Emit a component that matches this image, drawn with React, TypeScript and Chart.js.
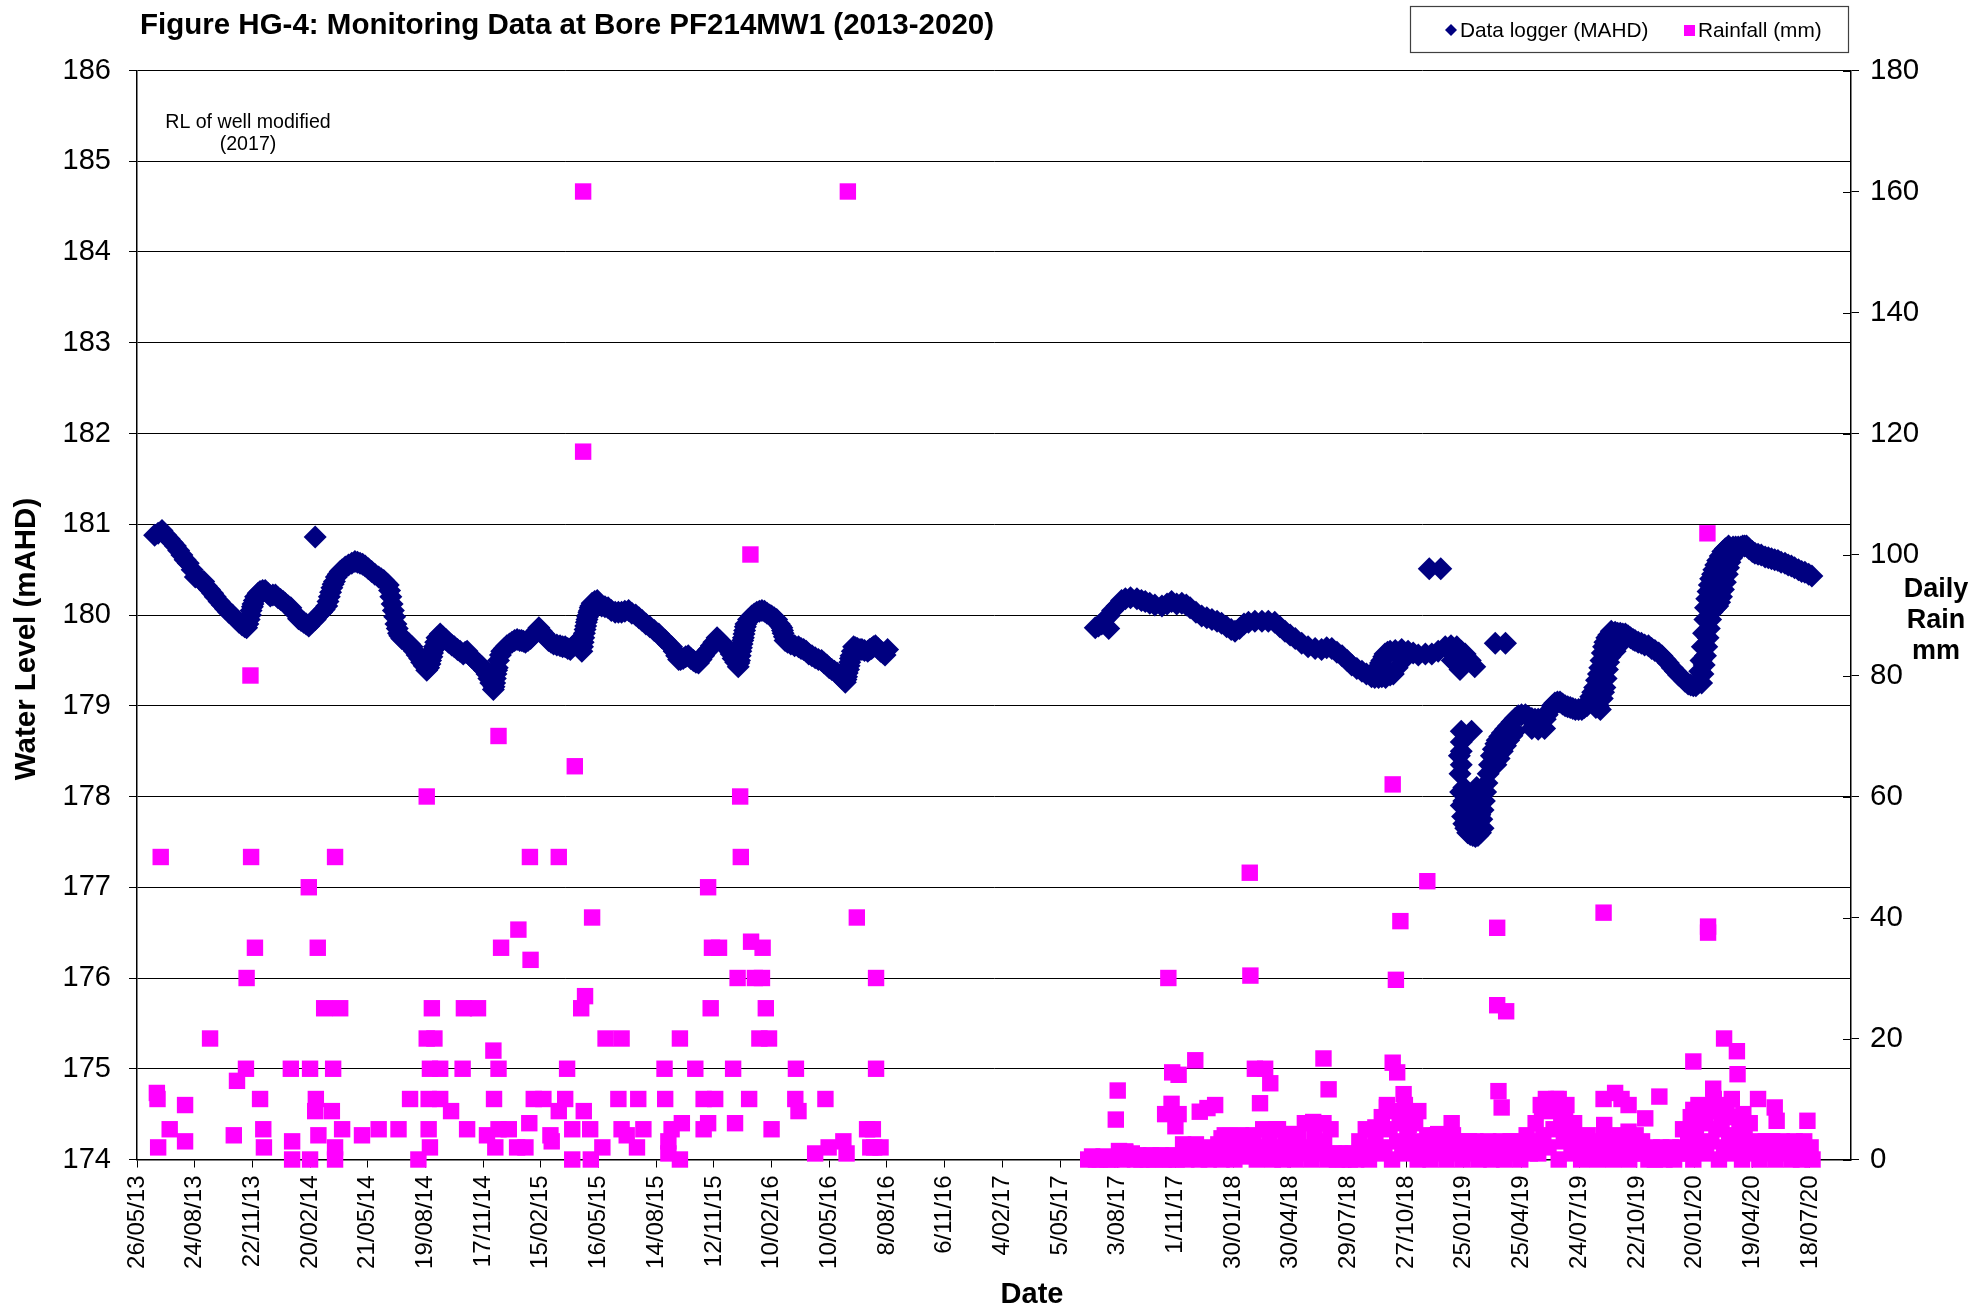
import React, { useEffect, useRef } from 'react';
import { Chart, registerables } from 'chart.js';

Chart.register(...registerables);

const FONT = '"Liberation Sans", Arial, Helvetica, sans-serif';
const TITLE = 'Figure HG-4: Monitoring Data at Bore PF214MW1 (2013-2020)';
const LEGEND_LEVEL = 'Data logger (MAHD)';
const LEGEND_RAIN = 'Rainfall (mm)';
const NOTE = ['RL of well modified', '(2017)'];
const Y_TITLE = 'Water Level (mAHD)';
const Y2_TITLE = ['Daily', 'Rain', 'mm'];
const X_TITLE = 'Date';

// x values are days after 26/05/2013
const X_MIN = 0;
const X_MAX = 2674;
const xTickDays = [0, 90, 180, 270, 360, 450, 540, 630, 720, 810, 900, 990, 1080, 1170, 1260, 1350, 1440, 1530, 1620, 1710, 1800, 1890, 1980, 2070, 2160, 2250, 2340, 2430, 2520, 2610];
const xTickLabels = ['26/05/13', '24/08/13', '22/11/13', '20/02/14', '21/05/14', '19/08/14', '17/11/14', '15/02/15', '16/05/15', '14/08/15', '12/11/15', '10/02/16', '10/05/16', '8/08/16', '6/11/16', '4/02/17', '5/05/17', '3/08/17', '1/11/17', '30/01/18', '30/04/18', '29/07/18', '27/10/18', '25/01/19', '25/04/19', '24/07/19', '22/10/19', '20/01/20', '19/04/20', '18/07/20'];

const levelTicks = [174, 175, 176, 177, 178, 179, 180, 181, 182, 183, 184, 185, 186];
const rainTicks = [0, 20, 40, 60, 80, 100, 120, 140, 160, 180];

// Data logger water level (mAHD), 2013 - 2016
const wlDaysA = [
  27.5, 33, 39, 45, 50, 55, 60, 65, 70, 75, 80, 86, 91, 97, 104, 108, 113, 118, 122, 128, 133, 138, 143, 149, 154, 159, 164, 168, 171, 173, 175, 177, 178, 180, 181, 183, 185, 189, 192, 196, 200, 204, 208, 212, 216, 220, 224, 228, 231, 236, 240, 246, 252, 256, 260, 264, 268, 273, 278, 278, 283, 288, 292, 296, 298, 300, 302, 304, 306, 308, 311, 314, 317, 320, 325, 330, 335, 340, 344, 348, 352, 356, 361, 366, 371, 377, 381, 385, 389, 392, 394, 396, 398, 400, 402, 404, 406, 408, 410, 413, 417, 421, 425, 429, 433, 437, 441, 444, 448, 452, 455, 457, 458, 460, 461, 463, 464, 466, 468, 473, 477, 482, 486, 491, 495, 500, 504, 509, 512, 515, 519, 523, 527, 530, 534, 538, 542, 546, 549, 552, 556, 557, 558, 559, 560, 561, 562, 564, 567, 569, 573, 577, 581, 585, 589, 593, 597, 600, 603, 606, 610, 614, 617, 620, 624, 627, 631, 635, 639, 642, 646, 650, 655, 660, 664, 668, 672, 676, 681, 686, 690, 694, 695, 696, 697, 698, 699, 700, 701, 702, 703, 704, 705, 706, 707, 708, 710, 714, 718, 721, 725, 730, 735, 740, 746, 751, 756, 761, 767, 772, 778, 783, 788, 794, 800, 807, 814, 819, 824, 829, 834, 838, 842, 845, 848, 852, 856, 860, 864, 868, 872, 876, 880, 884, 888, 892, 896, 900, 905, 909, 914, 918, 923, 927, 930, 934, 938, 939, 940, 941, 942, 943, 944, 945, 946, 947, 948, 949, 950, 954, 959, 963, 967, 971, 975, 979, 983, 987, 990, 994, 998, 1002, 1004, 1006, 1007, 1008, 1010, 1011, 1015, 1020, 1026, 1032, 1036, 1040, 1044, 1048, 1053, 1058, 1063, 1068, 1072, 1076, 1080, 1084, 1088, 1092, 1096, 1100, 1105, 1106, 1107, 1108, 1110, 1111, 1112, 1113, 1114, 1116, 1118, 1121, 1124, 1128, 1131, 1135, 1140, 1143, 1146, 1149, 1152, 1156, 1160, 1164, 1167, 1171,
];
const wlLevelA = [
  180.88, 180.9, 180.93, 180.88, 180.84, 180.8, 180.76, 180.71, 180.66, 180.61, 180.57, 180.5, 180.42, 180.4, 180.37, 180.32, 180.28, 180.24, 180.2, 180.15, 180.11, 180.07, 180.03, 180.0, 179.96, 179.92, 179.89, 179.87, 179.86, 179.9, 179.95, 180.0, 180.05, 180.09, 180.12, 180.16, 180.2, 180.24, 180.26, 180.27, 180.27, 180.24, 180.21, 180.22, 180.22, 180.19, 180.17, 180.15, 180.13, 180.1, 180.08, 180.02, 179.96, 179.94, 179.92, 179.9, 179.88, 179.92, 179.95, 180.86, 180.0, 180.03, 180.06, 180.1, 180.15, 180.2, 180.25, 180.3, 180.34, 180.37, 180.42, 180.45, 180.48, 180.5, 180.53, 180.55, 180.57, 180.59, 180.58, 180.57, 180.56, 180.54, 180.51, 180.48, 180.45, 180.42, 180.4, 180.38, 180.35, 180.33, 180.27, 180.2, 180.12, 180.05, 179.98, 179.9, 179.85, 179.8, 179.77, 179.74, 179.72, 179.7, 179.68, 179.65, 179.6, 179.56, 179.52, 179.48, 179.44, 179.39, 179.42, 179.46, 179.5, 179.54, 179.58, 179.62, 179.65, 179.7, 179.75, 179.79, 179.76, 179.73, 179.7, 179.67, 179.65, 179.62, 179.6, 179.57, 179.59, 179.6, 179.56, 179.53, 179.5, 179.48, 179.46, 179.43, 179.39, 179.35, 179.3, 179.25, 179.18, 179.21, 179.25, 179.3, 179.35, 179.39, 179.42, 179.5, 179.56, 179.6, 179.63, 179.66, 179.68, 179.7, 179.72, 179.73, 179.72, 179.72, 179.71, 179.7, 179.72, 179.74, 179.77, 179.8, 179.83, 179.86, 179.82, 179.79, 179.75, 179.72, 179.7, 179.68, 179.67, 179.66, 179.65, 179.65, 179.63, 179.62, 179.66, 179.7, 179.65, 179.6, 179.65, 179.7, 179.75, 179.8, 179.84, 179.88, 179.92, 179.95, 179.98, 180.0, 180.03, 180.05, 180.08, 180.1, 180.13, 180.15, 180.16, 180.13, 180.1, 180.09, 180.08, 180.05, 180.03, 180.03, 180.03, 180.04, 180.05, 180.02, 180.0, 179.97, 179.94, 179.9, 179.87, 179.83, 179.79, 179.75, 179.72, 179.68, 179.65, 179.6, 179.55, 179.51, 179.51, 179.52, 179.54, 179.55, 179.52, 179.5, 179.48, 179.47, 179.51, 179.55, 179.59, 179.62, 179.66, 179.7, 179.75, 179.72, 179.68, 179.65, 179.62, 179.57, 179.52, 179.48, 179.43, 179.47, 179.5, 179.55, 179.6, 179.64, 179.68, 179.72, 179.75, 179.79, 179.83, 179.87, 179.9, 179.95, 179.99, 180.01, 180.03, 180.04, 180.05, 180.04, 180.02, 180.0, 179.99, 179.97, 179.95, 179.9, 179.88, 179.86, 179.83, 179.8, 179.76, 179.72, 179.7, 179.68, 179.66, 179.65, 179.63, 179.62, 179.6, 179.57, 179.55, 179.53, 179.51, 179.5, 179.47, 179.45, 179.42, 179.4, 179.38, 179.36, 179.33, 179.3, 179.26, 179.29, 179.32, 179.36, 179.4, 179.44, 179.48, 179.52, 179.55, 179.6, 179.65, 179.64, 179.63, 179.62, 179.62, 179.61, 179.6, 179.62, 179.63, 179.65, 179.66, 179.63, 179.6, 179.58, 179.56, 179.62,
];

// Data logger water level (mAHD), 2017 - early 2019
const wlDaysB = [
  1495, 1500, 1505, 1510, 1516, 1516, 1522, 1529, 1536, 1542, 1550, 1560, 1567, 1573, 1580, 1588, 1599, 1607, 1614, 1622, 1630, 1637, 1643, 1652, 1661, 1669, 1677, 1685, 1692, 1700, 1707, 1713, 1720, 1727, 1734, 1744, 1755, 1765, 1775, 1783, 1791, 1799, 1807, 1817, 1827, 1838, 1848, 1856, 1864, 1872, 1880, 1888, 1895, 1903, 1911, 1918, 1926, 1931, 1937, 1942, 1948, 1955, 1960, 1937, 1940, 1942, 1945, 1947, 1951, 1955, 1963, 1966, 1973, 1975, 1983, 1991, 1999, 2010, 2016, 2020, 2030, 2034, 2041, 2050, 2052, 2059, 2060, 2064, 2066, 2072, 2080, 2087,
];
const wlLevelB = [
  179.86, 179.88, 179.9, 179.95, 179.99, 179.85, 180.05, 180.1, 180.16, 180.18, 180.19, 180.18, 180.16, 180.15, 180.13, 180.11, 180.1, 180.12, 180.15, 180.12, 180.13, 180.11, 180.08, 180.03, 179.99, 179.97, 179.95, 179.93, 179.91, 179.87, 179.84, 179.82, 179.85, 179.9, 179.92, 179.93, 179.93, 179.93, 179.92, 179.87, 179.82, 179.78, 179.74, 179.69, 179.65, 179.63, 179.62, 179.64, 179.63, 179.59, 179.55, 179.5, 179.45, 179.41, 179.38, 179.35, 179.32, 179.31, 179.31, 179.32, 179.31, 179.34, 179.35, 179.43, 179.47, 179.5, 179.54, 179.57, 179.59, 179.6, 179.61, 179.42, 179.62, 179.5, 179.6, 179.58, 179.56, 179.57, 180.51, 179.57, 179.6, 180.51, 179.65, 179.66, 179.5, 179.65, 179.45, 179.4, 179.6, 179.57, 179.5, 179.43,
];

// Data logger water level (mAHD), 2019 drop - 2020
const wlDaysC = [
  2066, 2066, 2066, 2066, 2063, 2064, 2065, 2066, 2068, 2070, 2073, 2076, 2080, 2084, 2088, 2092, 2096, 2100, 2098, 2100, 2102, 2104, 2106, 2108, 2110, 2113, 2116, 2120, 2070, 2070, 2075, 2075, 2080, 2080, 2085, 2085, 2090, 2090, 2090, 2095, 2095, 2082, 2119, 2135,
  2122, 2126, 2130, 2135, 2140, 2145, 2150, 2155, 2160, 2166, 2171, 2176, 2181, 2186, 2192, 2197, 2200, 2204, 2208, 2212, 2216, 2220, 2224, 2228, 2232, 2236, 2240, 2244, 2249, 2254, 2258,
  2120, 2125, 2130, 2135, 2140, 2145, 2150, 2176, 2186, 2196,
  2262, 2265, 2268, 2271, 2274, 2277, 2280, 2282, 2284, 2286, 2288, 2290, 2293, 2296,
  2276, 2280, 2283, 2286, 2288, 2290, 2292, 2294, 2296, 2298, 2302, 2306, 2310, 2314,
  2300, 2306, 2310, 2314, 2318, 2322, 2326, 2330, 2334, 2337, 2342, 2347, 2352, 2358, 2363, 2368, 2374, 2379, 2384, 2389, 2395, 2400, 2405, 2410, 2415, 2420, 2424, 2428, 2432,
  2436, 2438, 2440, 2442, 2444, 2446, 2447, 2449, 2451, 2453, 2455, 2458, 2460, 2463, 2466, 2470, 2474, 2478, 2483,
  2441, 2443, 2445, 2447, 2449, 2451, 2453, 2455, 2457, 2460, 2463, 2466, 2469, 2472, 2475, 2478, 2481, 2483, 2485, 2488, 2490, 2494,
  2490, 2494, 2498, 2502, 2505, 2508, 2511, 2515, 2520, 2524, 2529, 2534, 2540, 2545, 2550, 2555, 2560, 2565, 2571, 2576, 2581, 2586, 2592, 2597, 2602, 2608, 2613,
];
const wlLevelC = [
  178.72, 178.6, 178.5, 178.35, 178.45, 178.25, 178.05, 177.9, 177.78, 177.7, 177.65, 177.6, 177.58, 177.57, 177.56, 177.57, 177.6, 177.65, 177.75, 177.85, 177.95, 178.05, 178.15, 178.25, 178.35, 178.45, 178.52, 178.58, 178.1, 177.95, 177.85, 178.0, 177.75, 177.9, 177.7, 177.85, 177.7, 177.9, 178.1, 177.8, 178.0, 178.72, 179.69, 179.69,
  178.62, 178.66, 178.7, 178.74, 178.78, 178.82, 178.86, 178.89, 178.9, 178.9, 178.88, 178.86, 178.85, 178.85, 178.85, 178.85, 178.9, 178.95, 179.0, 179.03, 179.04, 179.04, 179.02, 179.0, 178.99, 178.98, 178.97, 178.96, 178.96, 178.96, 178.98,
  178.35, 178.42, 178.5, 178.56, 178.62, 178.67, 178.72, 178.75, 178.74, 178.75,
  179.0, 179.05, 179.1, 179.15, 179.2, 179.28, 179.35, 179.42, 179.5, 179.58, 179.65, 179.7, 179.75, 179.78,
  178.98, 179.0, 178.96, 179.08, 179.15, 179.2, 179.3, 179.4, 179.48, 179.54, 179.58, 179.6, 179.65, 179.7,
  179.82, 179.81, 179.8, 179.8, 179.79, 179.79, 179.77, 179.75, 179.73, 179.72, 179.7, 179.69, 179.67, 179.66, 179.63, 179.61, 179.58, 179.55, 179.51, 179.47, 179.42, 179.38, 179.34, 179.31, 179.27, 179.24, 179.23, 179.22, 179.22,
  179.25, 179.38, 179.5, 179.65, 179.8, 179.95, 180.08, 180.18, 180.26, 180.33, 180.4, 180.45, 180.5, 180.55, 180.6, 180.65, 180.7, 180.73, 180.76,
  179.25, 179.35, 179.45, 179.55, 179.65, 179.75, 179.85, 179.95, 180.03, 180.06, 180.08, 180.1, 180.14, 180.2, 180.28, 180.36, 180.45, 180.52, 180.58, 180.63, 180.68, 180.72,
  180.75, 180.75, 180.75, 180.75, 180.76, 180.76, 180.76, 180.73, 180.7, 180.68, 180.67, 180.66, 180.64, 180.63, 180.62, 180.61, 180.6, 180.58, 180.57, 180.55, 180.54, 180.52, 180.5, 180.48, 180.47, 180.45, 180.43,
];

// Daily rainfall (mm), 2013 - 2016
const rainDaysA = [
  31, 32, 33, 37, 51, 75, 75, 114, 151, 156, 170, 171, 177, 178, 184, 192, 197, 198, 240, 242, 242, 268, 270, 270, 278, 279, 282, 283, 292, 304, 306, 309, 309, 309, 317, 320, 351, 377, 408, 426, 439, 452, 452, 455, 455, 457, 457, 460, 464, 473, 473, 490, 508, 510, 515, 532, 546, 556, 557, 559, 564, 564, 564, 568, 580, 593, 595, 612, 613,
  606, 614, 619, 634, 645, 647, 658, 658, 668, 671, 679, 679, 683, 693, 696, 696, 697, 699, 707, 708, 710, 726, 731, 751, 756, 756, 764, 780, 782, 790, 823, 824, 829, 829, 834, 847, 847, 850, 871, 884, 884, 891, 891, 895, 897, 902, 908, 930, 933, 937, 941, 942, 955, 957, 958, 964, 971, 975, 976, 981, 986, 990, 1027, 1028, 1032, 1058, 1074, 1079, 1102, 1107, 1109, 1123, 1139, 1144, 1148, 1150, 1153, 1153, 1160,
];
const rainMmA = [
  11, 10, 2, 50, 5, 9, 3, 20, 4, 13, 15, 30, 80, 50, 35, 10, 5, 2, 15, 3, 0, 45, 15, 0, 8, 10, 35, 4, 25, 8, 15, 50, 0, 2, 25, 5, 4, 5, 5, 10, 0, 60, 20, 10, 5, 15, 2, 25, 20, 15, 10, 8, 15, 25, 5, 25, 4, 18, 10, 2, 70, 15, 5, 35, 5, 2, 38, 6, 50,
  2, 33, 10, 10, 4, 3, 50, 8, 10, 15, 5, 0, 65, 25, 160, 117, 8, 27, 5, 0, 40, 2, 20, 10, 20, 5, 4, 2, 10, 5, 15, 10, 3, 1, 5, 20, 0, 6, 15, 10, 5, 45, 6, 25, 35, 10, 35, 15, 6, 30, 60, 50, 10, 100, 36, 30, 20, 30, 35, 25, 20, 5, 10, 15, 8, 1, 10, 2, 3, 1, 160, 40, 5, 2, 5, 2, 30, 15, 2,
];

// Daily rainfall (mm), 2017 - 2020: wetter days
const rainDaysB = [
  1527, 1530, 1541, 1604, 1609, 1614, 1615, 1620, 1625, 1625, 1651, 1658, 1670, 1682, 1692, 1705, 1736, 1737, 1744, 1752, 1760, 1768, 1780, 1796, 1800, 1822, 1835, 1851, 1851, 1859, 1932, 1950, 1959, 1959, 1964, 1966, 1971, 1976, 1984, 1999, 2013, 2030, 2051,
  2122, 2122, 2124, 2129, 2136, 2192, 2218, 2228, 2254, 2285, 2288, 2288, 2289, 2306, 2316, 2327, 2327, 2353, 2375, 2428, 2428, 2431, 2447, 2450, 2451, 2451, 2459, 2472, 2476, 2488, 2496, 2497, 2506, 2529, 2555, 2558, 2606,
];
const rainMmB = [
  6.6, 11.4, 1.3, 7.5, 30, 9.2, 14.4, 5.5, 14, 7.5, 16.4, 7.9, 8.5, 9, 3.5, 3.9, 47.4, 30.4, 15, 9.3, 15, 12.6, 5, 4.2, 4.2, 1.7, 6.2, 16.7, 6, 11.6, 5.3, 8.6, 62, 16, 29.7, 14.4, 39.4, 10.8, 5.7, 8, 46, 4.2, 6,
  38.3, 25.5, 11.3, 8.6, 24.5, 8.2, 10, 8.2, 3.9, 2.4, 40.8, 10, 5.7, 11, 10, 9, 4.6, 6.8, 10.4, 16.2, 8.2, 5, 6.8, 103.5, 37.5, 38.5, 11.7, 8.6, 20, 10, 17.9, 14.1, 7.5, 10, 8.6, 6.4, 6.4,
];

// Daily rainfall (mm), 2017 - 2020: the near-daily light readings along the base
const rainDaysC = [
  1484, 1490, 1496, 1502, 1508, 1514, 1520, 1526, 1532, 1537, 1542, 1547, 1552, 1557, 1562, 1567, 1572, 1577, 1582, 1587, 1592, 1597, 1602, 1607, 1612, 1617, 1622, 1627, 1632, 1637, 1642, 1647, 1652, 1657, 1662, 1667, 1672, 1677, 1682, 1687, 1692, 1697, 1702, 1707, 1712, 1717, 1722, 1727, 1732, 1737, 1742, 1747, 1752, 1757, 1762, 1767, 1772, 1777, 1782, 1787, 1792, 1797, 1802, 1807, 1812, 1817, 1822, 1827, 1832, 1837, 1842, 1847, 1852, 1857, 1862, 1867, 1872, 1877, 1882, 1887, 1892, 1897, 1902, 1907, 1912, 1917, 1922, 1927, 1932, 1937, 1942, 1946, 1950, 1954, 1958, 1962, 1966, 1970, 1974, 1978, 1982, 1986, 1990, 1994, 1998, 2003, 2008, 2013, 2018, 2023, 2028, 2033, 2038, 2043, 2048, 2053, 2058, 2063, 2068, 2073, 2078, 2083, 2088, 2093, 2098, 2103, 2108, 2113, 2118, 2123, 2128, 2133, 2138, 2143, 2148, 2153, 2158, 2163, 2168, 2173, 2178, 2182, 2186, 2190, 2194, 2198, 2202, 2206, 2210, 2214, 2218, 2222, 2226, 2230, 2234, 2238, 2242, 2248, 2253, 2258, 2263, 2268, 2273, 2278, 2283, 2288, 2293, 2298, 2303, 2308, 2313, 2318, 2323, 2328, 2333, 2338, 2343, 2348, 2353, 2358, 2363, 2368, 2373, 2378, 2383, 2388, 2393, 2398, 2403, 2408, 2412, 2416, 2420, 2424, 2428, 2432, 2436, 2440, 2444, 2448, 2452, 2456, 2460, 2464, 2468, 2472, 2476, 2480, 2484, 2488, 2492, 2496, 2500, 2504, 2508, 2512, 2516, 2520, 2526, 2531, 2536, 2541, 2546, 2551, 2556, 2561, 2566, 2571, 2576, 2581, 2586, 2591, 2596, 2601, 2606, 2611, 2614,
];
const rainMmC = [
  0, 0.5, 0, 0, 0.5, 0, 0, 0.3, 1.4, 0, 1.3, 0.5, 1, 0, 0.7, 0, 0.5, 0, 0.7, 0, 0.3, 0.7, 0, 0.5, 0, 0.7, 0, 0.5, 2.5, 0, 1.5, 0.5, 2.5, 0, 1, 2, 0, 1.5, 0.5, 2.5, 0, 4, 1, 3, 0, 2, 4, 0.5, 3, 1, 4, 0, 2, 5, 1, 3, 0, 5, 2, 0, 4, 1, 3, 0, 4, 1, 6, 2, 0, 4, 6, 1, 3, 0, 5, 1, 0, 1, 0, 1, 0, 1, 0, 3, 1, 5, 0, 2, 4, 1, 7, 2, 9, 5, 0, 8, 3, 6, 1, 9, 4, 7, 2, 6, 0, 3, 1, 4, 0, 2, 4, 1, 3, 0, 2, 4, 1, 3, 0, 2, 3, 1, 3, 0, 2, 1, 3, 0, 2, 1, 3, 0, 2, 3, 1, 3, 0, 2, 4, 1, 3, 6, 1, 9, 4, 10, 2, 8, 5, 10, 0, 7, 3, 9, 5, 1, 6, 3, 0, 2, 4, 1, 3, 0, 2, 4, 1, 3, 0, 2, 4, 1, 3, 0, 2, 4, 1, 3, 1, 0, 2, 0, 1, 2, 0, 1, 2, 0, 1, 2, 5, 1, 3, 7, 0, 4, 9, 2, 6, 1, 8, 3, 10, 5, 0, 6, 2, 9, 4, 1, 7, 3, 5, 0, 4, 2, 6, 1, 3, 0, 2, 3, 1, 3, 0, 2, 3, 1, 2, 0, 3, 2, 0, 3, 1, 2, 0,
];

const NAVY = '#000080';
const MAGENTA = '#FF00FF';

const decorPlugin = {
  id: 'decor',
  afterDraw(chart: any) {
    const ctx = chart.ctx as CanvasRenderingContext2D;
    const a = chart.chartArea;
    ctx.save();
    ctx.fillStyle = '#000';
    ctx.textBaseline = 'middle';

    // title
    ctx.font = `bold 29.5px ${FONT}`;
    ctx.textAlign = 'left';
    ctx.fillText(TITLE, 140, 26);

    // legend
    ctx.strokeStyle = '#404040';
    ctx.lineWidth = 1.2;
    ctx.strokeRect(1410.5, 6.5, 438, 46);
    ctx.fillStyle = NAVY;
    ctx.beginPath();
    ctx.moveTo(1451 - 6, 30);
    ctx.lineTo(1451, 24);
    ctx.lineTo(1451 + 6, 30);
    ctx.lineTo(1451, 36);
    ctx.closePath();
    ctx.fill();
    ctx.fillStyle = MAGENTA;
    ctx.fillRect(1684, 25, 11, 11);
    ctx.fillStyle = '#000';
    ctx.font = `20.8px ${FONT}`;
    ctx.fillText(LEGEND_LEVEL, 1460, 31);
    ctx.fillText(LEGEND_RAIN, 1698, 31);

    // note
    ctx.font = `19.6px ${FONT}`;
    ctx.textAlign = 'center';
    ctx.fillText(NOTE[0], 248, 123);
    ctx.fillText(NOTE[1], 248, 145);

    // x title
    ctx.font = `bold 29px ${FONT}`;
    ctx.fillText(X_TITLE, 1032, 1295);

    // right title
    ctx.font = `bold 27px ${FONT}`;
    ctx.fillText(Y2_TITLE[0], 1936, 590);
    ctx.fillText(Y2_TITLE[1], 1936, 621);
    ctx.fillText(Y2_TITLE[2], 1936, 652);

    // left title
    ctx.save();
    ctx.translate(27, 639);
    ctx.rotate(-Math.PI / 2);
    ctx.font = `bold 29.5px ${FONT}`;
    ctx.fillText(Y_TITLE, 0, 0);
    ctx.restore();

    // inner half of the cross tick marks of the rain axis
    const y2 = chart.scales.y2;
    ctx.strokeStyle = '#000';
    ctx.lineWidth = 1;
    for (const t of rainTicks) {
      const yy = Math.round(y2.getPixelForValue(t)) + 0.5;
      ctx.beginPath();
      ctx.moveTo(a.right - 8, yy);
      ctx.lineTo(a.right, yy);
      ctx.stroke();
    }
    ctx.restore();
  },
};

export default function App() {
  const ref = useRef<HTMLCanvasElement>(null);
  useEffect(() => {
    const canvas = ref.current;
    if (!canvas) return;
    const wlDays = [...wlDaysA, ...wlDaysB, ...wlDaysC];
    const wlLevel = [...wlLevelA, ...wlLevelB, ...wlLevelC];
    const rainDays = [...rainDaysA, ...rainDaysB, ...rainDaysC];
    const rainMm = [...rainMmA, ...rainMmB, ...rainMmC];
    const levelPoints = wlDays.map((d, i) => ({ x: d, y: wlLevel[i] }));
    const rainPoints = rainDays.map((d, i) => ({ x: d, y: rainMm[i] }));
    const chart = new Chart(canvas, {
      type: 'scatter',
      data: {
        datasets: [
          {
            label: LEGEND_LEVEL,
            data: levelPoints,
            yAxisID: 'y',
            pointStyle: 'rectRot',
            pointRadius: 11.5,
            pointHoverRadius: 11.5,
            backgroundColor: NAVY,
            borderColor: NAVY,
            borderWidth: 0,
            clip: false,
          },
          {
            label: LEGEND_RAIN,
            data: rainPoints,
            yAxisID: 'y2',
            pointStyle: 'rect',
            pointRadius: 11.6,
            pointHoverRadius: 11.6,
            backgroundColor: MAGENTA,
            borderColor: MAGENTA,
            borderWidth: 0,
            clip: false,
          },
        ],
      },
      options: {
        responsive: false,
        animation: false,
        devicePixelRatio: 1,
        events: [],
        layout: { padding: { top: 70.5, left: 0, right: 0, bottom: 0 } },
        plugins: {
          legend: { display: false },
          title: { display: false },
          tooltip: { enabled: false },
        },
        scales: {
          x: {
            type: 'linear',
            position: 'bottom',
            min: X_MIN,
            max: X_MAX,
            afterBuildTicks: (s: any) => {
              s.ticks = xTickDays.map((v) => ({ value: v }));
            },
            afterFit: (s: any) => {
              s.height = 150.5;
            },
            ticks: {
              autoSkip: false,
              minRotation: 90,
              maxRotation: 90,
              padding: 8,
              color: '#000',
              font: { family: FONT, size: 24 },
              callback: (_v: any, i: number) => xTickLabels[i],
            },
            grid: { drawOnChartArea: false, drawTicks: true, tickLength: 8, color: '#000', lineWidth: 1 },
            border: { display: true, color: '#000', width: 1.5 },
          },
          y: {
            type: 'linear',
            position: 'left',
            min: 174,
            max: 186,
            afterBuildTicks: (s: any) => {
              s.ticks = levelTicks.map((v) => ({ value: v }));
            },
            afterFit: (s: any) => {
              s.width = 137;
            },
            ticks: { color: '#000', padding: 18, font: { family: FONT, size: 29 } },
            grid: { drawOnChartArea: true, drawTicks: true, tickLength: 8, color: '#000', lineWidth: 1 },
            border: { display: true, color: '#000', width: 1.5 },
          },
          y2: {
            type: 'linear',
            position: 'right',
            min: 0,
            max: 180,
            afterBuildTicks: (s: any) => {
              s.ticks = rainTicks.map((v) => ({ value: v }));
            },
            afterFit: (s: any) => {
              s.width = 124;
            },
            ticks: { color: '#000', padding: 11, font: { family: FONT, size: 29.5 } },
            grid: { drawOnChartArea: false, drawTicks: true, tickLength: 8, color: '#000', lineWidth: 1 },
            border: { display: true, color: '#000', width: 1.5 },
          },
        },
      },
      plugins: [decorPlugin],
    } as any);
    return () => chart.destroy();
  }, []);
  return (
    <div style={{ position: 'fixed', left: 0, top: 0, width: 1975, height: 1310, background: '#fff' }}>
      <canvas ref={ref} width={1975} height={1310} style={{ display: 'block', width: 1975, height: 1310 }} />
    </div>
  );
}
